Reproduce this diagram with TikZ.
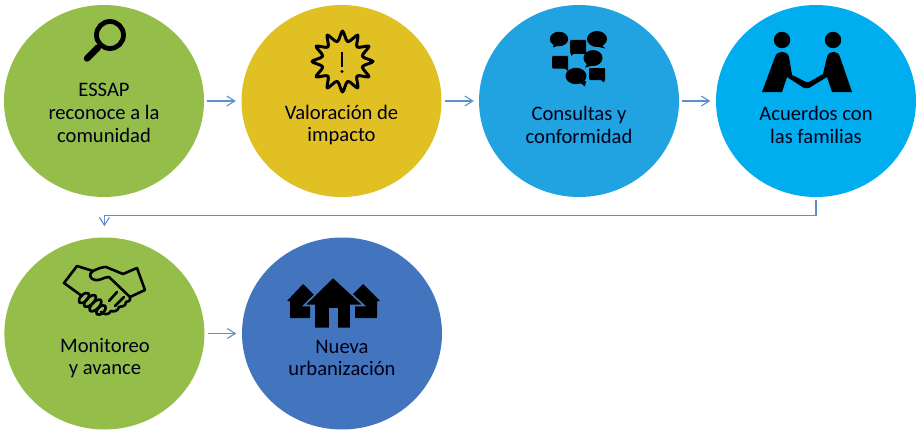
\documentclass[tikz,border=0pt]{standalone}
\usepackage{fontspec}
\setmainfont{Carlito}
\usetikzlibrary{shapes.geometric,arrows.meta}
\definecolor{cgreen}{HTML}{94BD4A}
\definecolor{cyellow}{HTML}{E1C024}
\definecolor{cblueA}{HTML}{20A3E0}
\definecolor{cblueB}{HTML}{00AEEF}
\definecolor{cblueC}{HTML}{4275BE}
\definecolor{clink}{HTML}{5D8FCB}
\tikzset{
  disc/.style={ellipse,minimum width=200pt,minimum height=192pt,inner sep=0pt,fill=#1},
  caption/.style={align=center,inner sep=0pt,font=\fontsize{20.6}{22.7}\selectfont,text=black!90!blue},
  link/.style={draw=clink,line width=1.3pt,-{Straight Barb[length=8pt,width=10pt,line width=1.1pt]}},
  iconline/.style={draw=black,line width=3pt,line join=round,line cap=round,fill=none}
}
\begin{document}
\begin{tikzpicture}[x=1pt,y=-1pt]
\useasboundingbox (0,0) rectangle (920,436);
\fill[white] (0,0) rectangle (920,436);
% circles
\node[disc=cgreen]  (c1) at (104,101) {};
\node[disc=cyellow] (c2) at (341.5,101) {};
\node[disc=cblueA]  (c3) at (579,101) {};
\node[disc=cblueB]  (c4) at (816,101) {};
\node[disc=cgreen]  (c5) at (104.4,333.5) {};
\node[disc=cblueC]  (c6) at (342,333.5) {};
% captions
\node[caption] (t1) at (104,113) {ESSAP\\reconoce a la\\comunidad};
\node[caption] (t2) at (341.5,125) {Valoración de\\impacto};
\node[caption] (t3) at (579,125) {Consultas y\\conformidad};
\node[caption] (t4) at (816,125) {Acuerdos con\\las familias};
\node[caption] (t5) at (105,358) {Monitoreo\\ y avance};
\node[caption] (t6) at (342,358) {Nueva\\urbanización};
% connectors
\draw[link,shorten <=3pt,shorten >=5.5pt] (c1.east) -- (c2.west);
\draw[link,shorten <=3pt,shorten >=5pt] (c2.east) -- (c3.west);
\draw[link,shorten <=3pt,shorten >=5.5pt] (c3.east) -- (c4.west);
\draw[link,shorten <=3pt,shorten >=5.5pt] (c5.east) -- (c6.west);
\coordinate (bend) at (816,215.5);
\draw[link,shorten <=3pt,shorten >=11pt] (c4.south) -- (bend) -| (c5.north);
% magnifier
\draw[black,line width=4.8pt] (110,35) circle (13.5);
\draw[black,line width=6.4pt,line cap=round] (98,47.5) -- (87,58.5);
% star
\draw[iconline] plot[smooth cycle,tension=0.5,samples at={0,...,23}]
  ({342.5+(25.5+5*cos(\x*180))*cos(\x*15-90)},{61.5+(25.5+5*cos(\x*180))*sin(\x*15-90)});
\draw[black,line width=2.6pt] (342,52) -- (342,67);
\fill[black] (342,71.5) circle (1.6);
% speech bubbles
\fill[black] (559,39) ellipse (9.2 and 7.2);
\fill[black] (554,43) -- (553,47.5) -- (560,45) -- cycle;
\fill[black,rounded corners=1pt] (570,40) rectangle (586,54);
\fill[black] (571,52) -- (571,56) -- (576,52) -- cycle;
\fill[black] (597,39) ellipse (10 and 8);
\fill[black] (600,44) -- (605.5,48.5) -- (594,46) -- cycle;
\fill[black] (593,58) ellipse (9.5 and 8);
\fill[black] (588,62) -- (585,67.5) -- (595,65) -- cycle;
\fill[black,rounded corners=1pt] (552,56) rectangle (568,68.5);
\fill[black] (563,67) -- (568,71) -- (568,67) -- cycle;
\fill[black] (576,76) ellipse (10.5 and 8.2);
\fill[black] (579,82) -- (585,86.5) -- (586,81) -- cycle;
\fill[black,rounded corners=1pt] (589,68) rectangle (605,80);
\fill[black] (600,79) -- (604,82.5) -- (605,79) -- cycle;
% people
\fill[black] (782,40) circle (8.2);
\fill[black] (833,40) circle (8.2);
\fill[black,line join=round] (762,92) -- (775,57) .. controls (777,50) and (787,50) .. (789,57)
 -- (792,75) -- (806,82) -- (809,82) -- (823,74) -- (827,57)
 .. controls (829,50) and (838,50) .. (840,57) -- (852,92) -- (832,92) -- (827,77)
 -- (809,88) -- (804,88) -- (787,77) -- (782,92) -- cycle;
% handshake
\begin{scope}[line width=2.6pt,line join=round,line cap=round,draw=black]
\draw (82,296) -- (64,283) -- (77,266) -- (93,271) .. controls (99,268) and (103,267) .. (106,267)
  -- (123,274) -- (137,268) -- (145,290) -- (130,297);
\draw (93,271) .. controls (88,274) and (90,279) .. (95,280) .. controls (100,281) and (104,277) .. (109,277)
  -- (130,297) .. controls (131,301) and (128,302) .. (126,302)
  .. controls (126,306) and (122,307) .. (119,307) .. controls (118,311) and (114,312) .. (111,311)
  .. controls (109,315) and (104,315) .. (101,312);
\draw (117,292) -- (109,301);
\draw (124,297) -- (115,306);
\draw[rotate around={45:(84,298)}] (84,298) ellipse (6.5 and 3.4);
\draw[rotate around={45:(90,301)}] (90,301) ellipse (7.5 and 3.6);
\draw[rotate around={45:(95.5,305.5)}] (95.5,305.5) ellipse (7.5 and 3.6);
\draw[rotate around={45:(101,310)}] (101,310) ellipse (6 and 3.2);
\end{scope}
% houses
\fill[black,rounded corners=0.6pt] (303,284) -- (320,301) -- (310,301) -- (310,318) -- (290,318) -- (290,301) -- (287,301) -- cycle;
\fill[black,rounded corners=0.6pt] (363,284) -- (380,301) -- (377,301) -- (377,318) -- (355,318) -- (355,301) -- (346,301) -- cycle;
\filldraw[fill=black,draw=cblueC,line width=1.6pt,line join=miter] (333,277) -- (364,305.5) -- (351,305.5) -- (351,328.5) -- (314,328.5) -- (314,305.5) -- (304,305.5) -- cycle;
\fill[cblueC] (329,308) rectangle (337.5,328);
\end{tikzpicture}
\end{document}
